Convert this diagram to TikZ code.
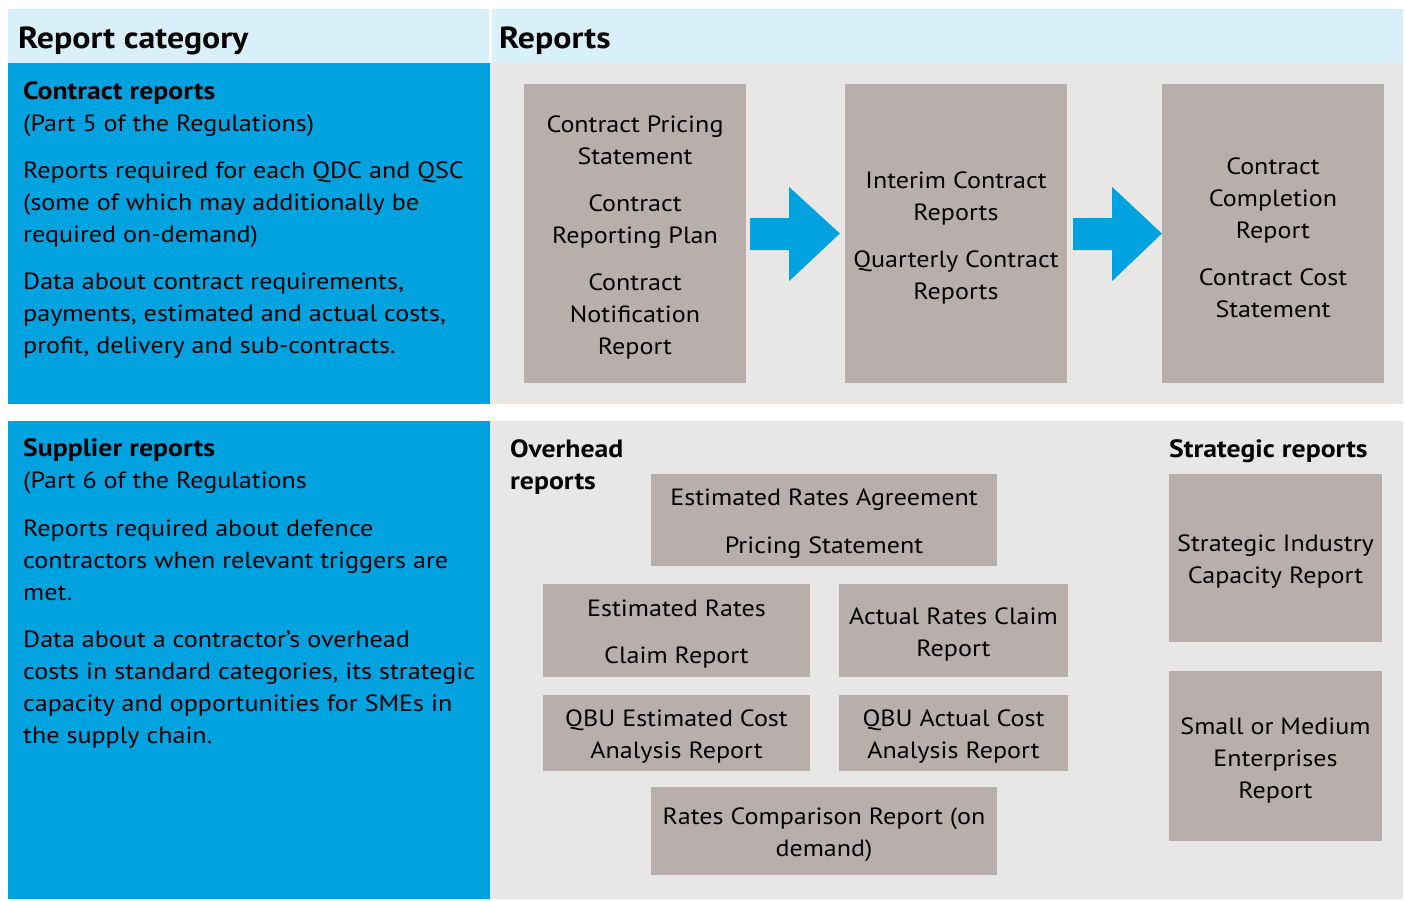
\documentclass[tikz,border=0pt]{standalone}
\usepackage{fontspec}
\setmainfont[FakeStretch=1.11]{PT Sans}
\newfontfamily\boldf[FakeStretch=1.12]{PT Sans Bold}
\usetikzlibrary{calc}
\definecolor{hdr}{HTML}{D9EFF9}
\definecolor{cblue}{HTML}{00A3E0}
\definecolor{panel}{HTML}{E8E7E5}
\definecolor{boxgrey}{HTML}{B8AFAC}
\begin{document}
\begin{tikzpicture}[x=1pt,y=-1pt,
  body/.style={font=\fontsize{23.5}{32}\selectfont, text=black, inner sep=0pt},
  rbox/.style={fill=boxgrey, inner sep=0pt},
  rtext/.style={body, align=center},
  hd/.style={font=\fontsize{30.5}{34}\selectfont\bfseries, inner sep=0pt, anchor=base west},
  ln/.style={body, anchor=base west},
  sect/.style={ln, font=\fontsize{25}{32}\selectfont\bfseries}]
\useasboundingbox (0,0) rectangle (1405,900);
\fill[white] (0,0) rectangle (1405,900);
% backgrounds
\fill[hdr] (8,9) rectangle (489,63);
\fill[hdr] (492,9) rectangle (1403,63);
\fill[cblue] (8,63) rectangle (490,404);
\fill[panel] (490,63) rectangle (1403,404);
\fill[cblue] (8,421) rectangle (490,899);
\fill[panel] (490,421) rectangle (1403,899);
% headers
\node[hd] (h1) at (18,48) {Report category};
\node[hd] (h2) at (499,48) {Reports};
% left texts, top
\node[sect] (ta0) at (23,99) {Contract reports};
\foreach \yy/\t [count=\i] in {131/{(Part 5 of the Regulations)},
  178/{Reports required for each QDC and QSC},210/{(some of which may additionally be},242/{required on-demand)},
  289/{Data about contract requirements,},321/{payments, estimated and actual costs,},353/{profit, delivery and sub-contracts.}}
  \node[ln] (ta\i) at (23,\yy) {\t};
% left texts, bottom
\node[sect] (tb0) at (23,456) {Supplier reports};
\foreach \yy/\t [count=\i] in {488/{(Part 6 of the Regulations},
  536/{Reports required about defence},568/{contractors when relevant triggers are},600/{met.},
  647/{Data about a contractor’s overhead},679/{costs in standard categories, its strategic},711/{capacity and opportunities for SMEs in},743/{the supply chain.}}
  \node[ln] (tb\i) at (23,\yy) {\t};
% top boxes
\node[rbox, minimum width=222, minimum height=299] (b1) at (635,233.5) {};
\node[rtext] (b1t) at ($(b1)+(0,4)$)
  {Contract Pricing\\Statement\\[15pt]Contract\\Reporting Plan\\[15pt]Contract\\Notification\\Report};
\node[rbox, minimum width=222, minimum height=299] (b2) at (956,233.5) {};
\node[rtext] (b2t) at ($(b2)+(0,4)$)
  {Interim Contract\\Reports\\[15pt]Quarterly Contract\\Reports};
\node[rbox, minimum width=222, minimum height=299] (b3) at (1273,233.5) {};
\node[rtext] (b3t) at ($(b3)+(0,4)$)
  {Contract\\Completion\\Report\\[15pt]Contract Cost\\Statement};
% block arrows
\fill[cblue] ($(b1.east)+(4,-15.5)$) -- ++(39,0) -- ++(0,-31) -- ($(b2.west)+(-5,0)$)
  -- ($(b1.east)+(43,47.5)$) -- ++(0,-31) -- ($(b1.east)+(4,16.5)$) -- cycle;
\fill[cblue] ($(b2.east)+(6,-15.5)$) -- ++(39,0) -- ++(0,-31) -- (b3.west)
  -- ($(b2.east)+(45,47.5)$) -- ++(0,-31) -- ($(b2.east)+(6,16.5)$) -- cycle;
% bottom labels
\node[sect] (ov1) at (510,457) {Overhead};
\node[sect] (ov2) at (510,489) {reports};
\node[sect] (st) at (1169,457) {Strategic reports};
% overhead boxes
\node[rbox, minimum width=346, minimum height=92] (c1) at (824,520) {};
\node[rtext] (c1t) at ($(c1)+(0,4)$) {Estimated Rates Agreement\\[16pt]Pricing Statement};
\node[rbox, minimum width=267, minimum height=93] (c2) at (676.5,630.5) {};
\node[rtext] (c2t) at ($(c2)+(0,4)$) {Estimated Rates\\[15pt]Claim Report};
\node[rbox, minimum width=229, minimum height=93] (c3) at (953.5,630.5) {};
\node[rtext] (c3t) at ($(c3)+(0,4)$) {Actual Rates Claim\\Report};
\node[rbox, minimum width=267, minimum height=76] (c4) at (676.5,733) {};
\node[rtext] (c4t) at ($(c4)+(0,4)$) {QBU Estimated Cost\\Analysis Report};
\node[rbox, minimum width=229, minimum height=76] (c5) at (953.5,733) {};
\node[rtext] (c5t) at ($(c5)+(0,4)$) {QBU Actual Cost\\Analysis Report};
\node[rbox, minimum width=346, minimum height=88] (c6) at (824,831) {};
\node[rtext] (c6t) at ($(c6)+(0,4)$) {Rates Comparison Report (on\\demand)};
% strategic boxes
\node[rbox, minimum width=213, minimum height=168] (s1) at (1275.5,558) {};
\node[rtext] (s1t) at ($(s1)+(0,4)$) {Strategic Industry\\Capacity Report};
\node[rbox, minimum width=213, minimum height=170] (s2) at (1275.5,756) {};
\node[rtext] (s2t) at ($(s2)+(0,4)$) {Small or Medium\\Enterprises\\Report};
\end{tikzpicture}
\end{document}
